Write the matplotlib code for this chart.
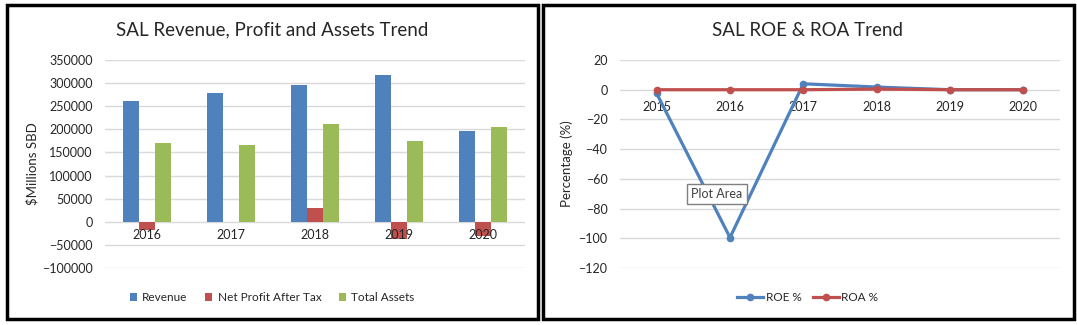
import matplotlib.pyplot as plt
import matplotlib.patches as patches
import numpy as np

plt.rcParams['font.family'] = ['Lato', 'DejaVu Sans']

# data
years_bar = ['2016', '2017', '2018', '2019', '2020']
revenue = [261000, 278000, 296000, 317000, 196000]
net_profit = [-17000, 0, 30500, -38000, -30000]
total_assets = [169500, 167000, 211000, 174000, 204000]

years_line = ['2015', '2016', '2017', '2018', '2019', '2020']
roe = [-2.5, -99.5, 4.0, 1.8, 0.0, 0.0]
roa = [0.0, 0.0, 0.0, 0.4, 0.0, 0.0]

blue = '#4F81BD'
red = '#C0504D'
green = '#9BBB59'
grid_c = '#D9D9D9'
txt_c = '#262626'

W, H = 1077, 325
fig = plt.figure(figsize=(W / 100, H / 100), dpi=100)


def fx(px):
    return px / W


def fy(py):
    return 1 - py / H


# panel borders
for x0, x1 in [(7, 538), (543, 1074)]:
    fig.patches.append(patches.Rectangle((fx(x0), fy(319)), fx(x1 - x0), (319 - 5) / H,
                                         transform=fig.transFigure, fill=False,
                                         edgecolor='black', linewidth=2.5))

# ---- bar chart ----
ax1 = fig.add_axes([fx(105), fy(268), fx(420), 208 / H])
x = np.arange(len(years_bar))
w = 0.19
ax1.bar(x - w, revenue, w, color=blue, label='Revenue', zorder=3)
ax1.bar(x, net_profit, w, color=red, label='Net Profit After Tax', zorder=3)
ax1.bar(x + w, total_assets, w, color=green, label='Total Assets', zorder=3)
ax1.set_xlim(-0.5, len(years_bar) - 0.5)
ax1.set_ylim(-100000, 350000)
ax1.set_yticks(np.arange(-100000, 350001, 50000))
ax1.yaxis.grid(True, color=grid_c, linewidth=1, zorder=0)
ax1.set_xticks([])
for s in ax1.spines.values():
    s.set_visible(False)
ax1.tick_params(axis='y', length=0, labelsize=9, labelcolor=txt_c, pad=9)
for i, yr in enumerate(years_bar):
    ax1.annotate(yr, (i, 0), xytext=(0, -5.5), textcoords='offset points',
                 ha='center', va='top', fontsize=9, color=txt_c, zorder=4)
ax1.set_ylabel('$Millions SBD', fontsize=9.5, color=txt_c, labelpad=2)
fig.text(fx(272), fy(30), 'SAL Revenue, Profit and Assets Trend', ha='center', va='center',
         fontsize=13.5, color=txt_c)
ax1.legend(loc='upper center', bbox_to_anchor=(0.398, -0.065), ncol=3, frameon=False,
           fontsize=8.5, handlelength=0.6, handleheight=0.6, handletextpad=0.45,
           columnspacing=1.5, labelcolor=txt_c)

# ---- line chart ----
ax2 = fig.add_axes([fx(620), fy(268), fx(440), 208 / H])
xl = np.arange(len(years_line))
ax2.plot(xl, roe, color=blue, linewidth=2.3, marker='o', markersize=4.5, label='ROE %', zorder=3)
ax2.plot(xl, roa, color=red, linewidth=2.3, marker='o', markersize=4.5, label='ROA %', zorder=4)
ax2.set_xlim(-0.5, len(years_line) - 0.5)
ax2.set_ylim(-120, 20)
ax2.set_yticks(np.arange(-120, 21, 20))
ax2.yaxis.grid(True, color=grid_c, linewidth=1, zorder=0)
ax2.set_xticks([])
for s in ax2.spines.values():
    s.set_visible(False)
ax2.tick_params(axis='y', length=0, labelsize=9, labelcolor=txt_c, pad=9)
for i, yr in enumerate(years_line):
    ax2.annotate(yr, (i, 0), xytext=(0, -8), textcoords='offset points',
                 ha='center', va='top', fontsize=9, color=txt_c, zorder=2)
ax2.set_ylabel('Percentage (%)', fontsize=9.5, color=txt_c, labelpad=4)
fig.text(fx(808), fy(30), 'SAL ROE & ROA Trend', ha='center', va='center',
         fontsize=13.5, color=txt_c)
ax2.legend(loc='upper center', bbox_to_anchor=(0.427, -0.065), ncol=2, frameon=False,
           fontsize=8.5, handlelength=2.2, handletextpad=0.2, columnspacing=1.0,
           labelcolor=txt_c)

# excel tooltip left in the screenshot
fig.text(fx(717), fy(194), 'Plot Area', ha='center', va='center',
         fontsize=9, color='#404040', zorder=6,
         bbox=dict(boxstyle='square,pad=0.35', facecolor='white', edgecolor='#7f7f7f', linewidth=1))

fig.savefig('out.png', dpi=100)
